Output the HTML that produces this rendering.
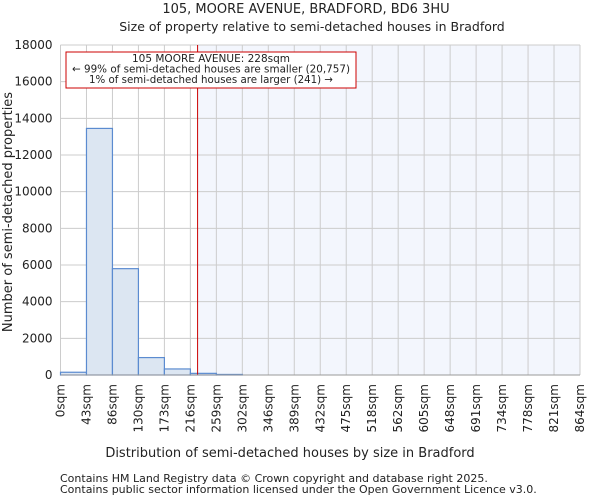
<!DOCTYPE html>
<html><head><meta charset="utf-8"><style>
body{margin:0;background:#fff;font-family:"DejaVu Sans","Liberation Sans",sans-serif}
svg text{font-family:"DejaVu Sans","Liberation Sans",sans-serif;fill:#222}
</style></head><body>
<svg id="c" width="600" height="500">
<text x="306" y="13" text-anchor="middle" font-size="13">105, MOORE AVENUE, BRADFORD, BD6 3HU</text>
<text x="312" y="31" text-anchor="middle" font-size="12.5">Size of property relative to semi-detached houses in Bradford</text>
<g id="plot"></g>
<text x="290" y="457" text-anchor="middle" font-size="13">Distribution of semi-detached houses by size in Bradford</text>
<text transform="translate(12,212) rotate(-90)" text-anchor="middle" font-size="13">Number of semi-detached properties</text>
<text x="60" y="482" font-size="11">Contains HM Land Registry data © Crown copyright and database right 2025.</text>
<text x="60" y="493" font-size="11">Contains public sector information licensed under the Open Government Licence v3.0.</text>
</svg>
<script>
const binEdges=[0,43,86,130,173,216,259,302,346,389,432,475,518,562,605,648,691,734,778,821,864];
const counts=[150,13450,5800,950,330,90,30,0,0,0,0,0,0,0,0,0,0,0,0,0];
const yTicks=[0,2000,4000,6000,8000,10000,12000,14000,16000,18000];
const propertySize=228;
const NS="http://www.w3.org/2000/svg";
const L=60.5,R=580,T=45,B=375,xMax=864,yMax=18000;
const x=v=>L+v/xMax*(R-L), y=v=>B-v/yMax*(B-T);
const g=document.getElementById('plot');
function mk(t,a){const e=document.createElementNS(NS,t);for(const k in a)e.setAttribute(k,a[k]);g.appendChild(e);return e;}
let e=mk('rect',{x:x(propertySize),y:T,width:R-x(propertySize),height:B-T,fill:'#f3f6fd'});


binEdges.forEach((v,i)=>{const xx=x(i*xMax/20);const l=mk('line',{x1:xx,x2:xx,y1:T,y2:B,stroke:'#ccc'});


const t=mk('text',{transform:`translate(${xx+4},${384}) rotate(-90)`,'text-anchor':'end','font-size':'12'});t.textContent=v+'sqm';

});
yTicks.forEach(v=>{const l=mk('line',{x1:L,x2:R,y1:y(v),y2:y(v),stroke:'#ccc'});


const t=mk('text',{x:L-8,y:y(v)+4,'text-anchor':'end','font-size':'12'});t.textContent=v;

});
counts.forEach((c,i)=>{if(c<=0)return;const x0=x(i*xMax/20),x1=x((i+1)*xMax/20);
const r=mk('rect',{x:x0,y:y(c),width:x1-x0,height:B-y(c),fill:'#dce6f2',stroke:'#5b8bd0','stroke-width':1.2});

});
e=mk('line',{x1:x(propertySize),x2:x(propertySize),y1:T,y2:B,stroke:'#c00','stroke-width':1});


e=mk('rect',{x:66,y:52,width:290,height:36,fill:'#fff',stroke:'#c00','stroke-width':1});


["105 MOORE AVENUE: 228sqm","← 99% of semi-detached houses are smaller (20,757)","1% of semi-detached houses are larger (241) →"].forEach((s,i)=>{
const t=mk('text',{x:211,y:62+i*10.5,'text-anchor':'middle','font-size':'11','textLength':(i==0?158:i==1?278:244),'lengthAdjust':'spacingAndGlyphs'});t.textContent=s;

});
e=mk('line',{x1:L,x2:R,y1:B,y2:B,stroke:'#999'});


</script>
</body></html>
